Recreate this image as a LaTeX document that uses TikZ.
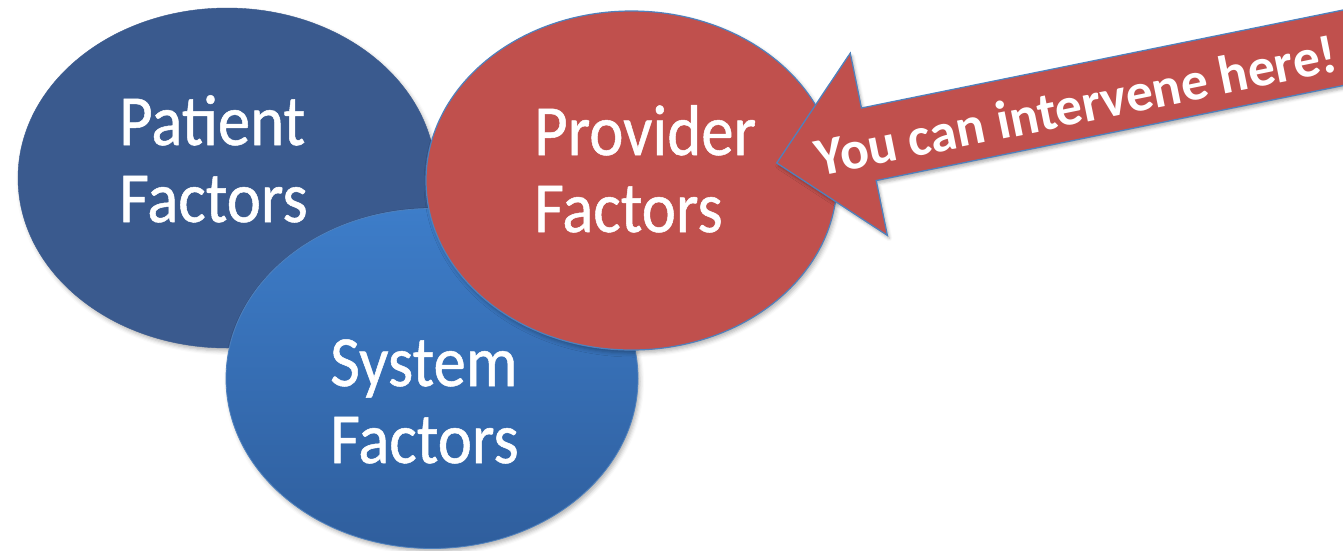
\documentclass[tikz,border=0pt]{standalone}
\usepackage{fontspec}
\setmainfont{Carlito}
\newfontfamily\ellfont[FakeStretch=0.9,FakeBold=0.7]{Carlito}
\usetikzlibrary{shapes.geometric,shadows.blur}
\definecolor{patBlue}{HTML}{3A5A8E}
\definecolor{sysTop}{HTML}{3D7DC9}
\definecolor{sysBot}{HTML}{2F5E9D}
\definecolor{provRed}{HTML}{C0504D}
\definecolor{edgeBlue}{HTML}{4F81BD}
\tikzset{
  factor/.style={ellipse, inner sep=0pt, blur shadow={shadow xshift=2pt, shadow yshift=-3pt, shadow blur radius=4pt, shadow opacity=30}},
  factortext/.style={text=white, align=left, inner sep=0pt, font=\ellfont\fontsize{72}{77}\selectfont},
  calloutbox/.style={fill=provRed, draw=edgeBlue, line width=1.3pt, line join=miter, blur shadow={shadow xshift=2pt, shadow yshift=-3pt, shadow blur radius=3pt, shadow opacity=30}},
  callouttext/.style={text=white, inner sep=0pt, font=\bfseries\fontsize{54}{58}\selectfont}
}
\begin{document}
\begin{tikzpicture}[x=1pt,y=-1pt]
\useasboundingbox (0,0) rectangle (1343,550);
\clip (0,0) rectangle (1343,550);
\node[factor, fill=patBlue, draw=patBlue, minimum width=418pt, minimum height=340pt] (patient) at (227,178) {};
\node[factor, top color=sysTop, bottom color=sysBot, draw=edgeBlue, line width=0.8pt, minimum width=412pt, minimum height=340pt] (system) at (432,378.5) {};
\node[factor, fill=provRed, draw=edgeBlue, line width=1.2pt, minimum width=411pt, minimum height=339pt] (provider) at (631.5,180.5) {};
\node[factortext, anchor=base west] (patientText) at (119,222) {Patient\\Factors};
\node[factortext, anchor=base west] (systemText) at (330,463) {System\\Factors};
\node[factortext, anchor=base west] (providerText) at (534,232) {Provider\\Factors};
\begin{scope}[shift={(776.7,163)}, rotate=11.5]
  \coordinate (tip) at (0,0);
  \draw[calloutbox] (tip) -- (94,-93) -- (94,-37) -- (620,-37) -- (620,37) -- (94,37) -- (94,93) -- cycle;
  \node[callouttext, rotate=11.5] (calloutText) at (305,3) {You can intervene here!};
\end{scope}
\end{tikzpicture}
\end{document}
